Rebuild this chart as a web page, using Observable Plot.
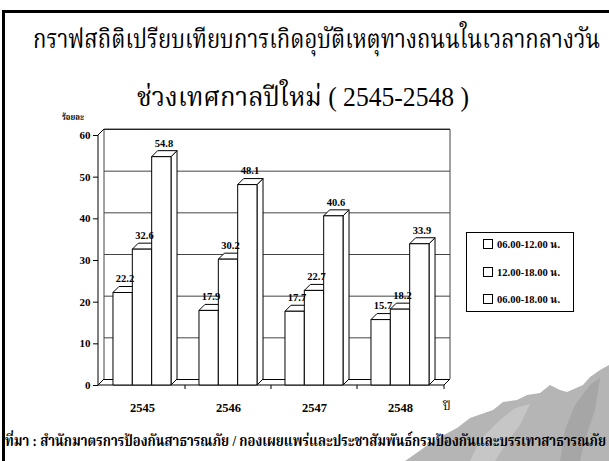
<!DOCTYPE html>
<html><head><meta charset="utf-8">
<script src="https://cdn.jsdelivr.net/npm/d3@7"></script>
<script src="https://cdn.jsdelivr.net/npm/@observablehq/plot@0.6"></script>
<style>
body{margin:0;background:#fff}
#page{position:relative;width:609px;height:461px;overflow:hidden;background:#fff;font-family:"Liberation Serif","Times New Roman","Noto Serif Thai","Kinnari","Norasi","Angsana New",serif;color:#000}
#rock{position:absolute;left:0;top:0}
#border{position:absolute;left:2px;top:10px;width:607px;height:451px;border-left:3px solid #000;border-top:3px solid #000;box-sizing:border-box}
#chart{position:absolute;left:0;top:0}
.fit{position:absolute;white-space:nowrap;transform-origin:0 50%;line-height:1.2}
#t1,#t2{font-size:27px}
#cap{font-size:15px;font-weight:bold}
#ylab{font-size:9px;font-weight:bold}
#xlab{font-size:12px}
#legend{position:absolute;left:466px;top:232px;width:108px;height:80px;border:1px solid #000;box-sizing:border-box;background:#fff}
.li{position:absolute;left:16px;font-size:10.5px;font-weight:bold;white-space:nowrap;line-height:12px}
.li span.sw{display:inline-block;width:8px;height:8px;border:1px solid #000;margin-right:4px;vertical-align:-1px;background:#fff}
</style></head><body>
<div id="page">
<svg id="rock" width="609" height="461">
<path d="M405,461 L425,447 L442,436 L457,428 L470,418 L493,410 L503,402 L517,400 L527,395 L540,393 L550,385 L560,390 L567,392 L583,385 L590,377 L600,370 L609,365 L609,461 Z" fill="#b5b5b5"/>
<path d="M470,461 L480,440 L500,420 L515,408 L530,404 L520,425 L505,445 L495,461 Z" fill="#c6c6c6"/>
<path d="M560,461 L565,430 L575,405 L590,385 L600,378 L595,410 L585,440 L580,461 Z" fill="#a6a6a6"/>
</svg>
<div id="border"></div>
<div id="chart"></div>
<div class="fit" id="t1">กราฟสถิติเปรียบเทียบการเกิดอุบัติเหตุทางถนนในเวลากลางวัน</div>
<div class="fit" id="t2">ช่วงเทศกาลปีใหม่ ( 2545-2548 )</div>
<div class="fit" id="ylab">ร้อยละ</div>
<div class="fit" id="xlab">ปี</div>
<div id="legend"></div>
<div class="fit" id="cap">ที่มา : สำนักมาตรการป้องกันสาธารณภัย / กองเผยแพร่และประชาสัมพันธ์กรมป้องกันและบรรเทาสาธารณภัย</div>
</div>
<script>
// ---- data ----
const years = ["2545", "2546", "2547", "2548"];
const seriesNames = ["06.00-12.00 น.", "12.00-18.00 น.", "06.00-18.00 น."];
const morning = [22.2, 17.9, 17.7, 15.7];
const afternoon = [32.6, 30.2, 22.7, 18.2];
const daytime = [54.8, 48.1, 40.6, 33.9];
const yTicks = [0, 10, 20, 30, 40, 50, 60];

const seriesValues = [morning, afternoon, daytime];
const table = years.flatMap((yr, i) => seriesValues.map((arr, s) => ({year: yr, series: seriesNames[s], value: arr[i]})));

// ---- layout ----
const W = 609, H = 461, ML = 98, MR = 165, MT = 135, MB = 76;
const DX = 6, DY = -6;
const BAR_FRAC = 0.225;
const bandW = (W - ML - MR) / years.length;
const barW = bandW * BAR_FRAC;
const FONT = "'Liberation Serif','Times New Roman',serif";

function frame3d(index, scales, values, dims) {
  const {x, y} = scales;
  const x0 = dims.marginLeft, x1 = dims.width - dims.marginRight;
  const y0 = y(0), yt = y(d3.max(yTicks));
  const g = d3.create("svg:g").attr("fill", "none").attr("stroke", "#000").attr("stroke-width", 1);
  g.append("path").attr("stroke", "#444").attr("d", `M${x0 + DX},${y0 + DY}V${yt + DY}H${x1 + DX}V${y0 + DY}`);
  g.append("path").attr("d", `M${x0},${yt}V${y0}H${x1}M${x0},${y0}L${x0 + DX},${y0 + DY}M${x0},${yt}L${x0 + DX},${yt + DY}M${x1},${y0}L${x1 + DX},${y0 + DY}`);
  const bounds = years.slice(1).map(yr => x(yr)).concat([x1]);
  for (const b of bounds) g.append("path").attr("d", `M${b},${y0}v4`);
  return g.node();
}

function bars3d(index, scales) {
  const {x, y} = scales;
  const bw = x.bandwidth();
  const w = bw * BAR_FRAC;
  const g = d3.create("svg:g").attr("fill", "#fff").attr("stroke", "#000").attr("stroke-width", 1).attr("stroke-linejoin", "round");
  for (const d of table) {
    const s = seriesNames.indexOf(d.series);
    const xl = x(d.year) + bw / 2 + (s - seriesNames.length / 2) * w;
    const xr = xl + w;
    const yt = y(d.value), yb = y(0);
    g.append("path").attr("d", `M${xr},${yb}L${xr + DX},${yb + DY}L${xr + DX},${yt + DY}L${xr},${yt}Z`);
    g.append("path").attr("d", `M${xl},${yt}L${xl + DX},${yt + DY}L${xr + DX},${yt + DY}L${xr},${yt}Z`);
    g.append("rect").attr("x", xl).attr("y", yt).attr("width", w).attr("height", yb - yt);
  }
  return g.node();
}

const labelMarks = seriesNames.map((name, s) =>
  Plot.text(table.filter(d => d.series === name), {
    x: "year", y: "value", text: d => d.value.toFixed(1),
    dx: (s - 1) * barW + 2, dy: -14, fontSize: 10.5, fontWeight: "bold", fill: "#000"
  })
);

const plot = Plot.plot({
  width: W, height: H,
  marginLeft: ML, marginRight: MR, marginTop: MT, marginBottom: MB,
  style: {background: "transparent", fontFamily: FONT, fontWeight: "bold", color: "#000", overflow: "visible"},
  x: {type: "band", domain: years, padding: 0, label: null},
  y: {domain: [0, 60], label: null},
  marks: [
    Plot.ruleY(yTicks.slice(1, -1), {dx: DX, dy: DY, stroke: "#444", strokeWidth: 1}),
    Plot.ruleY([0, 60], {dx: DX, dy: DY, stroke: "#000", strokeWidth: 1}),
    frame3d,
    bars3d,
    ...labelMarks,
    Plot.axisY({ticks: yTicks, tickSize: 5, tickPadding: 3, fontSize: 11, fontWeight: "bold", label: null}),
    Plot.axisX({tickSize: 0, tickPadding: 18, fontSize: 12.5, fontWeight: "bold", label: null})
  ]
});
document.getElementById("chart").appendChild(plot);

// legend
const legend = document.getElementById("legend");
const itemY = [245, 273, 300];
seriesNames.forEach((name, i) => {
  const el = document.createElement("div");
  el.className = "li";
  el.style.top = (itemY[i] - 232 - 7) + "px";
  el.innerHTML = `<span class="sw"></span>${name}`;
  legend.appendChild(el);
});

// fit texts to reference extents
function fit(id, left, right, cy) {
  const el = document.getElementById(id);
  el.style.left = left + "px";
  const r = el.getBoundingClientRect();
  el.style.top = (cy - r.height / 2) + "px";
  if (right != null) el.style.transform = `scaleX(${(right - left) / r.width})`;
}
fit("t1", 33, 600, 39);
fit("t2", 137, 469, 97);
fit("ylab", 62, 84, 117);
fit("xlab", 443, null, 406);
fit("cap", 5, 606, 441);
</script>
</body></html>
